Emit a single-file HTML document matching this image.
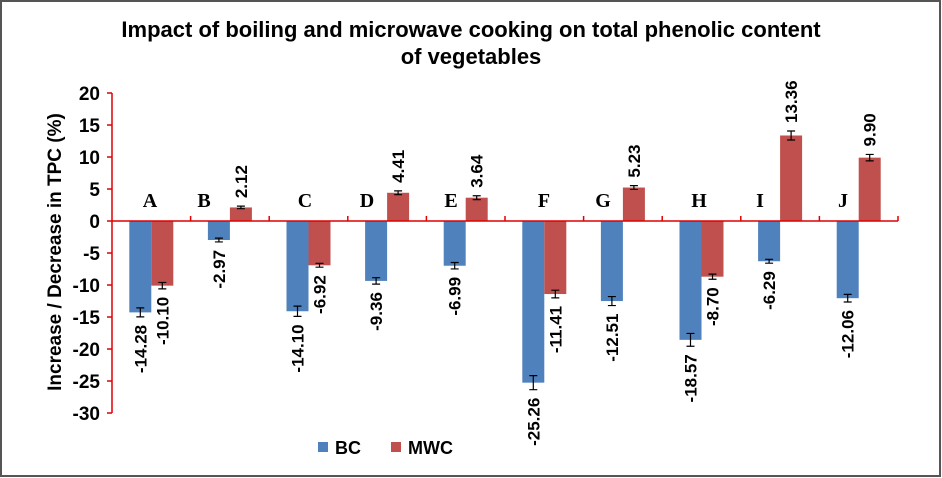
<!DOCTYPE html>
<html><head><meta charset="utf-8"><style>
html,body{margin:0;padding:0;background:#fff}
svg{display:block}
text{font-family:"Liberation Sans",sans-serif;font-weight:bold}
text.serif{font-family:"Liberation Serif",serif}
</style></head><body>
<svg id="chart" width="942" height="478">
<rect x="1" y="1" width="939" height="475" fill="#fff" stroke="#555" stroke-width="2"/>
<text x="471" y="37" font-size="22" text-anchor="middle">Impact of boiling and microwave cooking on total phenolic content</text>
<text x="471" y="64" font-size="22" text-anchor="middle">of vegetables</text>
<text transform="translate(61,252) rotate(-90)" font-size="19" text-anchor="middle">Increase / Decrease in TPC (%)</text>
<g id="plot"></g>
<rect x="318" y="442" width="10" height="10" fill="#4f81bd"/>
<text x="335" y="454" font-size="18">BC</text>
<rect x="391" y="442" width="10" height="10" fill="#c0504d"/>
<text x="408" y="454" font-size="18">MWC</text>
</svg>
<script>
const categories=["A","B","C","D","E","F","G","H","I","J"];
const bcValues=[-14.28,-2.97,-14.10,-9.36,-6.99,-25.26,-12.51,-18.57,-6.29,-12.06];
const mwcValues=[-10.10,2.12,-6.92,4.41,3.64,-11.41,5.23,-8.70,13.36,9.90];
const bcErr=[0.7,0.3,0.8,0.5,0.5,1.1,0.7,1.0,0.3,0.6];
const mwcErr=[0.5,0.2,0.3,0.3,0.3,0.6,0.3,0.4,0.7,0.5];
const yTicks=[20,15,10,5,0,-5,-10,-15,-20,-25,-30];
const letterX=[150,204,305,367,451,544,603,699,760,843];

const NS="http://www.w3.org/2000/svg";
const g=document.getElementById('plot');
const x0=112,x1=898,yMax=20,yMin=-30,yTop=93,yBot=413;
function y(v){return yTop+(yMax-v)*(yBot-yTop)/(yMax-yMin);}
const band=(x1-x0)/categories.length;
function cx(i){return x0+band*(i+0.5);}
function mk(t,a){const e=document.createElementNS(NS,t);for(const k in a)e.setAttribute(k,a[k]);g.appendChild(e);return e;}

let e=mk('line',{x1:x0,y1:yTop,x2:x0,y2:yBot,stroke:'#e00000','stroke-width':1.5});


yTicks.forEach(v=>{
  let t=mk('line',{x1:x0-5,y1:y(v),x2:x0,y2:y(v),stroke:'#e00000','stroke-width':1.5});
  
  
  let l=mk('text',{x:x0-12,y:y(v)+7,'font-size':19,'text-anchor':'end'});
  l.textContent=v;
  
  
});

function bar(i,v,err,color,off,name){
  const bx=cx(i)+off;const w=22;
  const top=Math.min(y(v),y(0)),h=Math.abs(y(v)-y(0));
  let r=mk('rect',{x:bx-w/2,y:top,width:w,height:h,fill:color});
  
  
  const ea=y(v+err),eb=y(v-err);
  let eg=mk('path',{d:`M${bx} ${ea}V${eb}M${bx-4} ${ea}H${bx+4}M${bx-4} ${eb}H${bx+4}`,stroke:'#000','stroke-width':1.2,fill:'none'});
  
  
  const txt=v.toFixed(2);
  let ty,anchor;
  if(v>=0){ty=y(v+err)-8;anchor='start';}else{ty=y(v-err)+8;anchor='end';}
  let l=mk('text',{transform:`translate(${bx+6},${ty}) rotate(-90)`,'font-size':17,'text-anchor':anchor});
  l.textContent=txt;
  
  
}
categories.forEach((c,i)=>{
  bar(i,bcValues[i],bcErr[i],'#4f81bd',-11,'bc');
  bar(i,mwcValues[i],mwcErr[i],'#c0504d',11,'mwc');
  let l=mk('text',{x:letterX[i],y:207,'font-size':20,'text-anchor':'middle','class':'serif'});
  l.textContent=c;
  
  
});
e=mk('line',{x1:x0,y1:y(0),x2:x1,y2:y(0),stroke:'#e00000','stroke-width':1.5});


for(let k=1;k<=categories.length;k++){
  let t=mk('line',{x1:x0+band*k,y1:y(0)-5,x2:x0+band*k,y2:y(0),stroke:'#e00000','stroke-width':1.5});
  
  
}
</script>
</body></html>
